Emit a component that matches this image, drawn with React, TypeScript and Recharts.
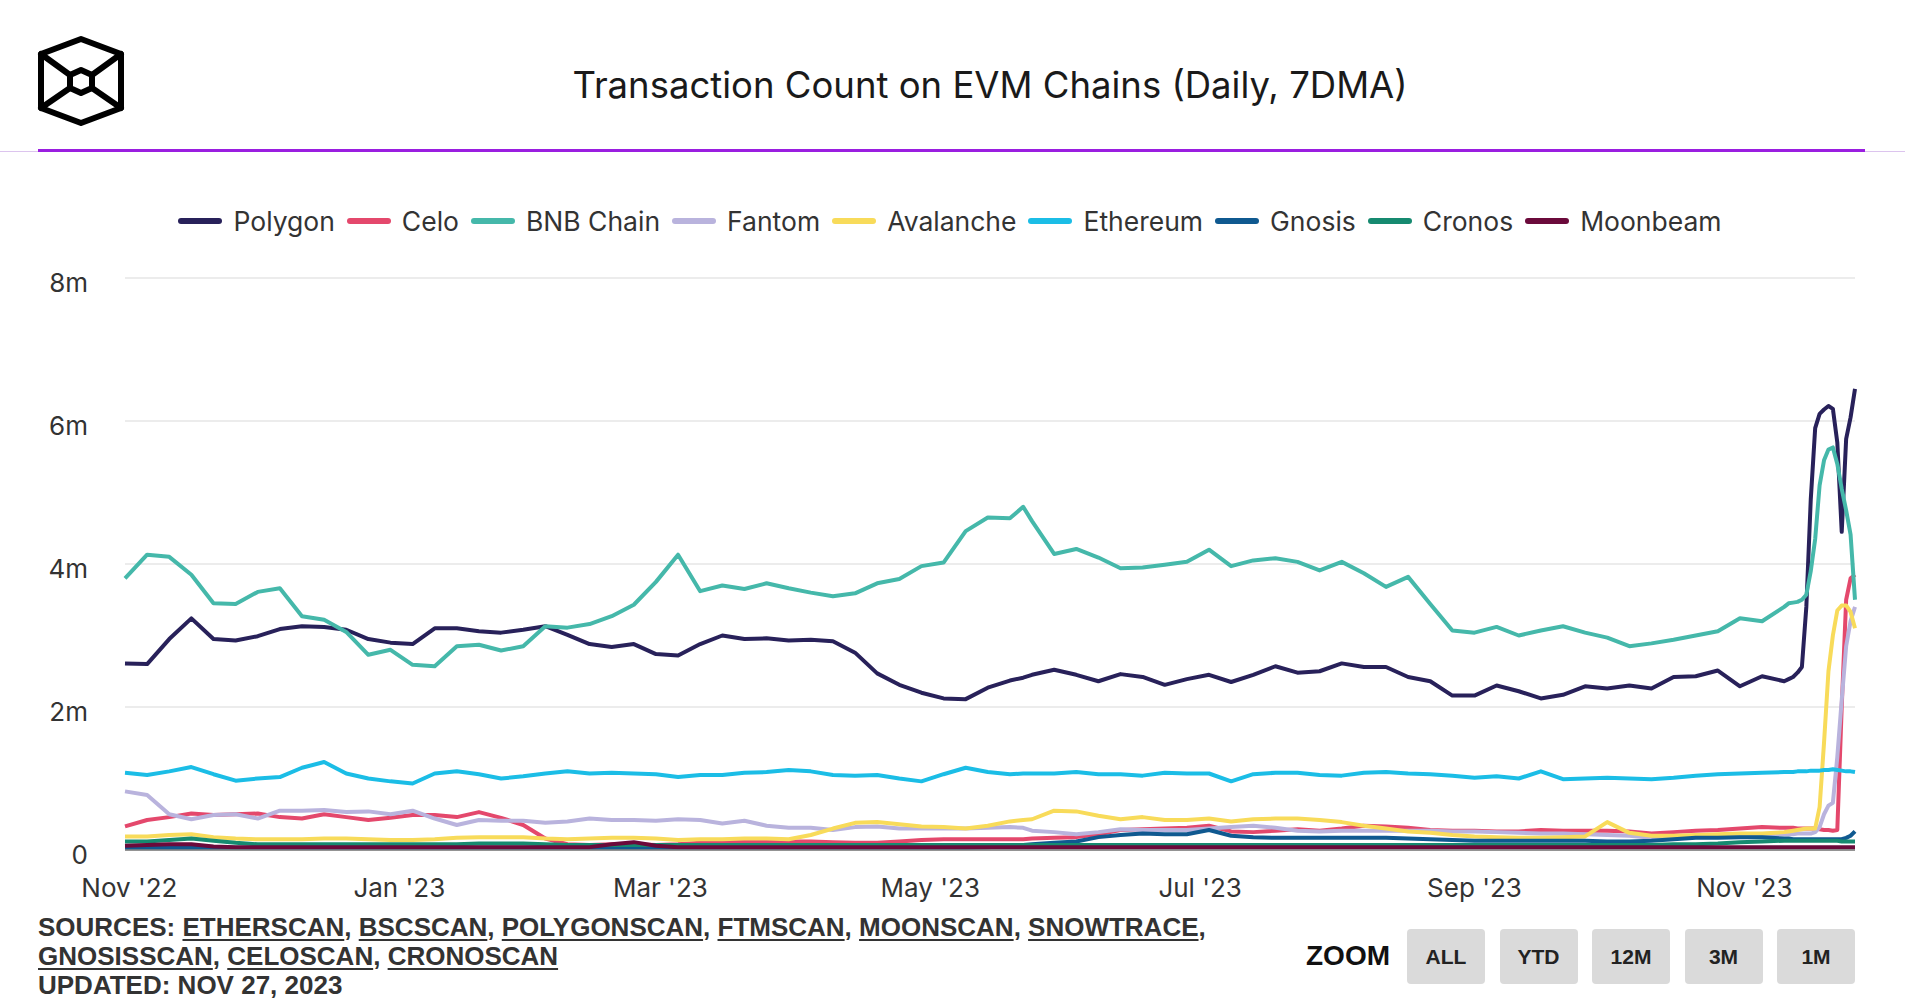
import React from 'react';
import { CartesianGrid, Legend, Line, LineChart, XAxis, YAxis } from 'recharts';

// Sample dates: every 5 days, then daily for the final spike (values are 7DMA, millions)
const dates = [
  '2022-10-31', '2022-11-05', '2022-11-10', '2022-11-15', '2022-11-20', '2022-11-25', '2022-11-30',
  '2022-12-05', '2022-12-10', '2022-12-15', '2022-12-20', '2022-12-25', '2022-12-30',
  '2023-01-04', '2023-01-09', '2023-01-14', '2023-01-19', '2023-01-24', '2023-01-29',
  '2023-02-03', '2023-02-08', '2023-02-13', '2023-02-18', '2023-02-23', '2023-02-28',
  '2023-03-05', '2023-03-10', '2023-03-15', '2023-03-20', '2023-03-25', '2023-03-30',
  '2023-04-04', '2023-04-09', '2023-04-14', '2023-04-19', '2023-04-24', '2023-04-29',
  '2023-05-04', '2023-05-09', '2023-05-14', '2023-05-19', '2023-05-22', '2023-05-24', '2023-05-29',
  '2023-06-03', '2023-06-08', '2023-06-13', '2023-06-18', '2023-06-23', '2023-06-28',
  '2023-07-03', '2023-07-08', '2023-07-13', '2023-07-18', '2023-07-23', '2023-07-28',
  '2023-08-02', '2023-08-07', '2023-08-12', '2023-08-17', '2023-08-22', '2023-08-27',
  '2023-09-01', '2023-09-06', '2023-09-11', '2023-09-16', '2023-09-21', '2023-09-26',
  '2023-10-01', '2023-10-06', '2023-10-11', '2023-10-16', '2023-10-21', '2023-10-26', '2023-10-31',
  '2023-11-05', '2023-11-10', '2023-11-11', '2023-11-12', '2023-11-13', '2023-11-14', '2023-11-15',
  '2023-11-16', '2023-11-17', '2023-11-18', '2023-11-19', '2023-11-20', '2023-11-21', '2023-11-22',
  '2023-11-23', '2023-11-24', '2023-11-25', '2023-11-26',
];

const polygon = [
  2.61, 2.60, 2.95, 3.24, 2.95, 2.93, 2.99, 3.09, 3.13, 3.12,
  3.08, 2.95, 2.90, 2.88, 3.10, 3.10, 3.06, 3.04, 3.08, 3.13,
  3.01, 2.88, 2.84, 2.88, 2.74, 2.72, 2.88, 3.00, 2.95, 2.96,
  2.93, 2.94, 2.92, 2.76, 2.47, 2.31, 2.20, 2.12, 2.11, 2.27,
  2.37, 2.41, 2.45, 2.52, 2.45, 2.36, 2.46, 2.42, 2.31, 2.39, 2.45,
  2.35, 2.45, 2.57, 2.48, 2.50, 2.61, 2.56, 2.56, 2.42, 2.36,
  2.16, 2.16, 2.30, 2.22, 2.12, 2.17, 2.29, 2.26, 2.30, 2.26,
  2.42, 2.43, 2.51, 2.29, 2.43, 2.36,
  2.39, 2.42, 2.48, 2.56, 3.40, 4.90, 5.90, 6.10, 6.16, 6.21, 6.17, 5.70, 4.45, 5.75, 6.05, 6.45,
];

const celo = [
  0.33, 0.42, 0.46, 0.51, 0.49, 0.50, 0.51, 0.46, 0.44, 0.50,
  0.46, 0.42, 0.45, 0.49, 0.49, 0.46, 0.53, 0.45, 0.35, 0.16,
  0.08, 0.07, 0.08, 0.08, 0.07, 0.08, 0.10, 0.11, 0.12, 0.12,
  0.12, 0.12, 0.11, 0.10, 0.10, 0.12, 0.14, 0.15, 0.15, 0.15,
  0.15, 0.15, 0.16, 0.17, 0.18, 0.22, 0.28, 0.29, 0.30, 0.31, 0.34,
  0.26, 0.25, 0.27, 0.29, 0.27, 0.30, 0.34, 0.33, 0.31, 0.28,
  0.27, 0.27, 0.26, 0.26, 0.28, 0.27, 0.27, 0.27, 0.26, 0.23,
  0.25, 0.27, 0.28, 0.30, 0.32, 0.31,
  0.31, 0.31, 0.30, 0.30, 0.30, 0.30, 0.30, 0.29, 0.28, 0.28, 0.27, 0.28, 2.00, 3.50, 3.80, 3.85,
];

const bnb = [
  3.80, 4.13, 4.10, 3.85, 3.45, 3.44, 3.61, 3.66, 3.27, 3.22,
  3.05, 2.73, 2.80, 2.59, 2.57, 2.85, 2.87, 2.79, 2.85, 3.13,
  3.11, 3.16, 3.27, 3.43, 3.75, 4.13, 3.62, 3.70, 3.65, 3.73,
  3.66, 3.60, 3.55, 3.59, 3.73, 3.79, 3.97, 4.02, 4.46, 4.65,
  4.64, 4.80, 4.60, 4.14, 4.21, 4.09, 3.94, 3.95, 3.99, 4.03, 4.20,
  3.97, 4.05, 4.08, 4.03, 3.91, 4.03, 3.87, 3.68, 3.82, 3.44,
  3.07, 3.04, 3.12, 3.00, 3.07, 3.13, 3.04, 2.97, 2.85, 2.89,
  2.94, 3.00, 3.06, 3.24, 3.20, 3.40,
  3.45, 3.46, 3.47, 3.50, 3.57, 3.90, 4.35, 5.10, 5.45, 5.60, 5.63, 5.40, 5.05, 4.75, 4.41, 3.50,
];

const fantom = [
  0.82, 0.77, 0.50, 0.43, 0.49, 0.50, 0.44, 0.55, 0.55, 0.56,
  0.53, 0.54, 0.50, 0.55, 0.44, 0.35, 0.42, 0.41, 0.41, 0.38,
  0.40, 0.44, 0.42, 0.42, 0.41, 0.43, 0.42, 0.37, 0.41, 0.34,
  0.31, 0.31, 0.28, 0.32, 0.33, 0.30, 0.30, 0.30, 0.30, 0.31,
  0.32, 0.31, 0.27, 0.25, 0.22, 0.25, 0.29, 0.28, 0.28, 0.28, 0.30,
  0.32, 0.34, 0.31, 0.27, 0.26, 0.27, 0.27, 0.27, 0.27, 0.27,
  0.26, 0.26, 0.25, 0.24, 0.23, 0.23, 0.22, 0.21, 0.20, 0.17,
  0.18, 0.19, 0.20, 0.21, 0.21, 0.22,
  0.22, 0.22, 0.23, 0.23, 0.23, 0.23, 0.25, 0.32, 0.50, 0.62, 0.66, 1.30, 2.10, 2.85, 3.20, 3.40,
];

const avalanche = [
  0.19, 0.19, 0.21, 0.22, 0.18, 0.16, 0.15, 0.15, 0.15, 0.16,
  0.16, 0.15, 0.14, 0.14, 0.15, 0.17, 0.18, 0.18, 0.18, 0.16,
  0.15, 0.16, 0.17, 0.17, 0.16, 0.14, 0.15, 0.15, 0.16, 0.16,
  0.15, 0.21, 0.30, 0.38, 0.39, 0.36, 0.33, 0.32, 0.30, 0.34,
  0.40, 0.42, 0.43, 0.55, 0.54, 0.48, 0.43, 0.46, 0.42, 0.42, 0.44,
  0.40, 0.43, 0.44, 0.44, 0.42, 0.39, 0.34, 0.30, 0.26, 0.24,
  0.21, 0.19, 0.18, 0.17, 0.17, 0.18, 0.19, 0.39, 0.24, 0.20,
  0.20, 0.21, 0.22, 0.23, 0.23, 0.25,
  0.26, 0.27, 0.28, 0.29, 0.30, 0.30, 0.30, 0.60, 1.50, 2.50, 3.00, 3.35, 3.42, 3.42, 3.33, 3.10,
];

const ethereum = [
  1.08, 1.05, 1.10, 1.16, 1.06, 0.97, 1.00, 1.02, 1.15, 1.23,
  1.07, 1.00, 0.96, 0.93, 1.07, 1.10, 1.06, 1.00, 1.03, 1.07,
  1.10, 1.07, 1.08, 1.07, 1.06, 1.02, 1.05, 1.05, 1.08, 1.09,
  1.12, 1.10, 1.05, 1.04, 1.05, 1.00, 0.96, 1.06, 1.15, 1.09,
  1.06, 1.07, 1.07, 1.07, 1.09, 1.06, 1.06, 1.04, 1.08, 1.07, 1.07,
  0.96, 1.06, 1.08, 1.08, 1.05, 1.04, 1.08, 1.09, 1.07, 1.06,
  1.04, 1.01, 1.03, 1.00, 1.10, 0.99, 1.00, 1.01, 1.00, 0.99,
  1.01, 1.04, 1.06, 1.07, 1.08, 1.09,
  1.09, 1.09, 1.10, 1.10, 1.10, 1.11, 1.11, 1.11, 1.12, 1.12, 1.13, 1.12, 1.11, 1.10, 1.10, 1.09,
];

const gnosis = [
  0.03, 0.03, 0.03, 0.03, 0.03, 0.03, 0.03, 0.03, 0.03, 0.03,
  0.03, 0.03, 0.03, 0.03, 0.03, 0.03, 0.03, 0.03, 0.03, 0.03,
  0.03, 0.03, 0.03, 0.03, 0.03, 0.03, 0.03, 0.03, 0.03, 0.03,
  0.03, 0.03, 0.03, 0.03, 0.03, 0.03, 0.03, 0.03, 0.03, 0.04,
  0.06, 0.07, 0.08, 0.10, 0.12, 0.18, 0.21, 0.23, 0.22, 0.22, 0.28,
  0.20, 0.18, 0.17, 0.17, 0.17, 0.17, 0.17, 0.17, 0.16, 0.15,
  0.14, 0.13, 0.13, 0.13, 0.13, 0.13, 0.13, 0.12, 0.12, 0.13,
  0.15, 0.17, 0.17, 0.18, 0.18, 0.16,
  0.16, 0.15, 0.15, 0.15, 0.15, 0.15, 0.15, 0.15, 0.15, 0.15, 0.15, 0.15, 0.15, 0.17, 0.20, 0.26,
];

const cronos = [
  0.12, 0.12, 0.14, 0.16, 0.13, 0.10, 0.08, 0.08, 0.08, 0.08,
  0.08, 0.08, 0.08, 0.08, 0.08, 0.08, 0.09, 0.09, 0.09, 0.08,
  0.07, 0.07, 0.07, 0.07, 0.07, 0.07, 0.07, 0.07, 0.07, 0.07,
  0.07, 0.07, 0.07, 0.07, 0.07, 0.07, 0.07, 0.07, 0.07, 0.07,
  0.07, 0.07, 0.07, 0.07, 0.07, 0.07, 0.07, 0.07, 0.07, 0.07, 0.07,
  0.07, 0.07, 0.07, 0.07, 0.07, 0.07, 0.07, 0.07, 0.07, 0.07,
  0.07, 0.07, 0.07, 0.07, 0.07, 0.07, 0.07, 0.07, 0.07, 0.07,
  0.08, 0.08, 0.09, 0.11, 0.12, 0.13,
  0.13, 0.13, 0.13, 0.13, 0.13, 0.13, 0.13, 0.13, 0.13, 0.13, 0.13, 0.13, 0.12, 0.12, 0.12, 0.12,
];

const moonbeam = [
  0.06, 0.07, 0.08, 0.08, 0.05, 0.04, 0.04, 0.04, 0.04, 0.04,
  0.04, 0.04, 0.04, 0.04, 0.04, 0.04, 0.04, 0.04, 0.04, 0.04,
  0.04, 0.04, 0.08, 0.11, 0.06, 0.04, 0.04, 0.04, 0.04, 0.04,
  0.04, 0.04, 0.04, 0.04, 0.04, 0.04, 0.04, 0.04, 0.04, 0.04,
  0.04, 0.04, 0.04, 0.04, 0.04, 0.04, 0.04, 0.04, 0.04, 0.04, 0.04,
  0.04, 0.04, 0.04, 0.04, 0.04, 0.04, 0.04, 0.04, 0.04, 0.04,
  0.04, 0.04, 0.04, 0.04, 0.04, 0.04, 0.04, 0.04, 0.04, 0.04,
  0.04, 0.04, 0.04, 0.04, 0.04, 0.04,
  0.04, 0.04, 0.04, 0.04, 0.04, 0.04, 0.04, 0.04, 0.04, 0.04, 0.04, 0.04, 0.04, 0.04, 0.04, 0.04,
];

const seriesNames = ['Polygon', 'Celo', 'BNB Chain', 'Fantom', 'Avalanche', 'Ethereum', 'Gnosis', 'Cronos', 'Moonbeam'];
const seriesKeys = ['polygon', 'celo', 'bnb', 'fantom', 'avalanche', 'ethereum', 'gnosis', 'cronos', 'moonbeam'];
const seriesValues = [polygon, celo, bnb, fantom, avalanche, ethereum, gnosis, cronos, moonbeam];
const seriesColors = ['#28215a', '#e4486c', '#45b8aa', '#b9b3dd', '#f8db5a', '#1bbde6', '#0f5990', '#168a70', '#6b0a3b'];

const tickDates = ['2022-11-01', '2023-01-01', '2023-03-01', '2023-05-01', '2023-07-01', '2023-09-01', '2023-11-01'];
const tickLabels = ["Nov '22", "Jan '23", "Mar '23", "May '23", "Jul '23", "Sep '23", "Nov '23"];
const yTicks = [0, 2, 4, 6, 8];

const sources = ['ETHERSCAN', 'BSCSCAN', 'POLYGONSCAN', 'FTMSCAN', 'MOONSCAN', 'SNOWTRACE'];
const sources2 = ['GNOSISSCAN', 'CELOSCAN', 'CRONOSCAN'];
const zoomButtons = ['ALL', 'YTD', '12M', '3M', '1M'];

const toTime = (s: string) => Date.parse(s + 'T00:00:00Z');
const tickTimes = tickDates.map(toTime);

const data = dates.map((d, i) => {
  const row: Record<string, number> = { t: toTime(d) };
  seriesKeys.forEach((k, j) => {
    row[k] = seriesValues[j][i];
  });
  return row;
});

const FONT = 'Inter, "Noto Sans", sans-serif';

const renderLegend = () => (
  <div
    style={{
      display: 'flex',
      justifyContent: 'center',
      alignItems: 'center',
      fontFamily: FONT,
      fontSize: 26.5,
      color: '#333',
      lineHeight: '30px',
    }}
  >
    {seriesNames.map((name, i) => (
      <div key={name} style={{ display: 'flex', alignItems: 'center', marginRight: i < seriesNames.length - 1 ? 12 : 0 }}>
        <span
          style={{
            display: 'inline-block',
            width: 44,
            height: 6,
            borderRadius: 3,
            background: seriesColors[i],
            marginRight: 11,
          }}
        />
        <span>{name}</span>
      </div>
    ))}
  </div>
);

const YTick = (props: any) => {
  const { x, y, payload } = props;
  const v = payload.value;
  return (
    <text x={x} y={y} dy={14} textAnchor="end" fill="#333" fontSize={26} fontFamily={FONT}>
      {v === 0 ? '0' : `${v}m`}
    </text>
  );
};

const Logo = () => (
  <svg width={130} height={130} style={{ position: 'absolute', left: 0, top: 0 }}>
    <g fill="none" stroke="#000" strokeWidth={6} strokeLinejoin="round" strokeLinecap="round">
      <polygon points="81,39 121,54 121,108 81,123 41,108 41,54" />
      <polygon points="81,70 92,75 92,88 81,93 70,88 70,75" />
      <line x1={41} y1={54} x2={70} y2={75} />
      <line x1={121} y1={54} x2={92} y2={75} />
      <line x1={41} y1={108} x2={70} y2={88} />
      <line x1={121} y1={108} x2={92} y2={88} />
    </g>
  </svg>
);

const underline: React.CSSProperties = {
  textDecoration: 'underline',
  textDecorationThickness: 2,
  textUnderlineOffset: 3,
};

export default function App() {
  return (
    <div style={{ position: 'absolute', left: 0, top: 0, width: 1905, height: 1008, background: '#fff', overflow: 'hidden' }}>
      <Logo />
      <div
        style={{
          position: 'absolute',
          left: 990,
          top: 64,
          transform: 'translateX(-50%)',
          fontFamily: FONT,
          fontSize: 36.5,
          lineHeight: '42px',
          color: '#1a1a1a',
          whiteSpace: 'nowrap',
        }}
      >
        Transaction Count on EVM Chains (Daily, 7DMA)
      </div>
      <div style={{ position: 'absolute', left: 0, top: 151, width: 1905, height: 1, background: '#dcc4ee' }} />
      <div style={{ position: 'absolute', left: 38, top: 149, width: 1827, height: 3, background: '#9a1ee0' }} />

      <div style={{ position: 'absolute', left: 0, top: 0 }}>
        <LineChart width={1905} height={920} data={data} margin={{ top: 278, right: 50, bottom: 20, left: 0 }}>
          <CartesianGrid vertical={false} stroke="#e6e6e6" strokeWidth={1.5} />
          <XAxis
            dataKey="t"
            type="number"
            domain={[toTime('2022-10-31'), toTime('2023-11-26')]}
            ticks={tickTimes}
            tickFormatter={(v: number) => tickLabels[tickTimes.indexOf(v)]}
            height={50}
            tickLine={false}
            tickSize={0}
            tickMargin={29}
            axisLine={{ stroke: '#777', strokeWidth: 1.5 }}
            tick={{ fill: '#333', fontSize: 26, fontFamily: FONT }}
          />
          <YAxis
            width={125}
            domain={[0, 8]}
            ticks={yTicks}
            tickLine={false}
            axisLine={false}
            tickSize={0}
            tickMargin={37}
            tick={<YTick />}
          />
          <Legend
            verticalAlign="middle"
            layout="horizontal"
            content={renderLegend}
            wrapperStyle={{ top: 206, left: 0, width: 1900 }}
          />
          {seriesKeys.map((k, i) => (
            <Line
              key={k}
              dataKey={k}
              name={seriesNames[i]}
              type="linear"
              stroke={seriesColors[i]}
              strokeWidth={4}
              strokeLinejoin="round"
              dot={false}
              activeDot={false}
              isAnimationActive={false}
            />
          ))}
        </LineChart>
      </div>

      <div
        style={{
          position: 'absolute',
          left: 38,
          top: 913,
          fontFamily: '"Liberation Sans", Arial, sans-serif',
          fontWeight: 700,
          fontSize: 26,
          lineHeight: '29px',
          color: '#333',
          whiteSpace: 'nowrap',
        }}
      >
        <div>
          SOURCES:{' '}
          {sources.map((s, i) => (
            <React.Fragment key={s}>
              <span style={underline}>{s}</span>
              {i < sources.length - 1 ? ', ' : ','}
            </React.Fragment>
          ))}
        </div>
        <div>
          {sources2.map((s, i) => (
            <React.Fragment key={s}>
              <span style={underline}>{s}</span>
              {i < sources2.length - 1 ? ', ' : ''}
            </React.Fragment>
          ))}
        </div>
        <div>UPDATED: NOV 27, 2023</div>
      </div>

      <div
        style={{
          position: 'absolute',
          left: 1306,
          top: 938,
          fontFamily: '"Liberation Sans", Arial, sans-serif',
          fontWeight: 700,
          fontSize: 28,
          lineHeight: '36px',
          color: '#111',
        }}
      >
        ZOOM
      </div>
      {zoomButtons.map((b, i) => (
        <div
          key={b}
          style={{
            position: 'absolute',
            left: 1407 + i * 92.5,
            top: 929,
            width: 78,
            height: 55,
            borderRadius: 4,
            background: '#dadada',
            display: 'flex',
            alignItems: 'center',
            justifyContent: 'center',
            fontFamily: '"Liberation Sans", Arial, sans-serif',
            fontWeight: 700,
            fontSize: 21,
            color: '#222',
          }}
        >
          {b}
        </div>
      ))}
    </div>
  );
}
